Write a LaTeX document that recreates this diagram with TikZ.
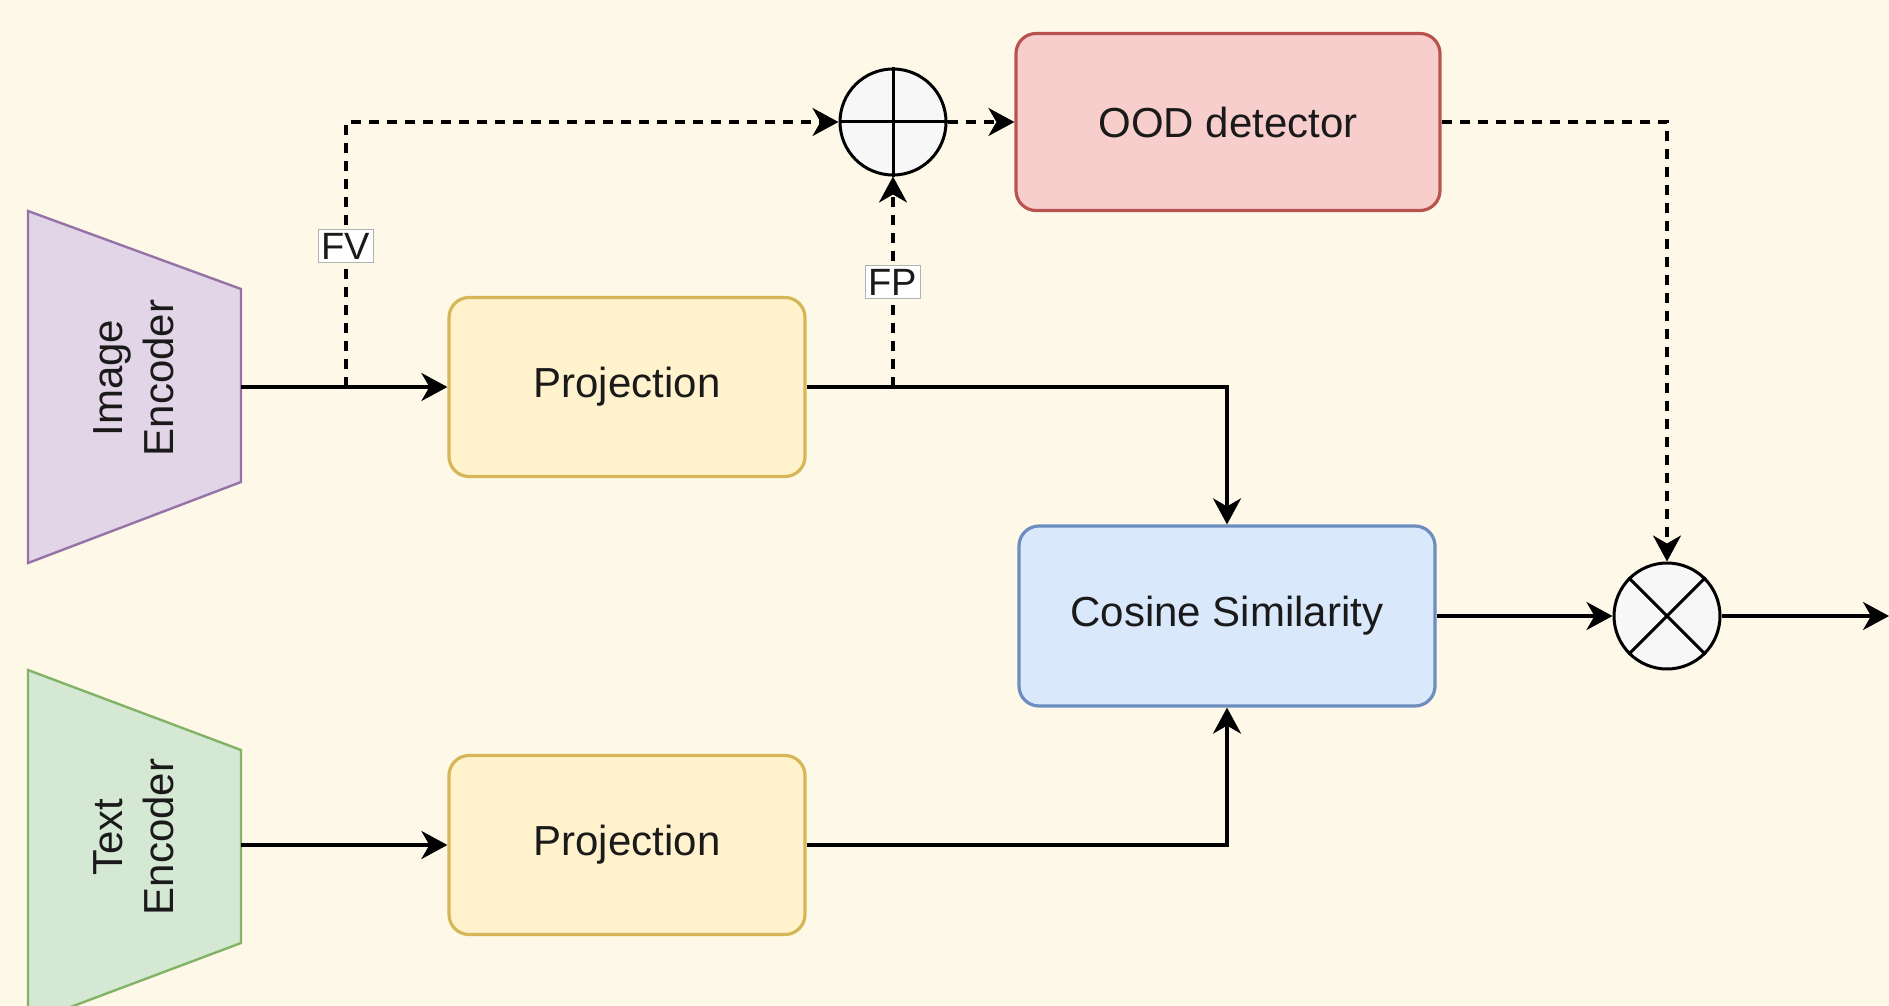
\documentclass[tikz,border=0pt]{standalone}
\usepackage{fontspec}
\setmainfont{Liberation Sans}
\usetikzlibrary{arrows.meta,calc}
\definecolor{bgc}{HTML}{FEF8E8}
\definecolor{ieF}{HTML}{E1D5E7}\definecolor{ieD}{HTML}{9673A6}
\definecolor{teF}{HTML}{D5E8D4}\definecolor{teD}{HTML}{82B366}
\definecolor{prF}{HTML}{FFF2CC}\definecolor{prD}{HTML}{D6B656}
\definecolor{csF}{HTML}{DAE8FC}\definecolor{csD}{HTML}{6C8EBF}
\definecolor{odF}{HTML}{F8CECC}\definecolor{odD}{HTML}{B85450}
\definecolor{txt}{HTML}{1A1A1A}
\begin{document}
\begin{tikzpicture}[x=0.5pt,y=-0.5pt,
  every node/.style={text=txt,font=\fontsize{21pt}{25.5pt}\selectfont},
  box/.style={rounded corners=10pt,line width=1.6pt,inner sep=0pt},
  conn/.style={line width=1.6pt,-{Stealth[length=13pt,width=14pt,inset=4pt]}},
  dconn/.style={conn,dash pattern=on 5pt off 4pt},
  lab/.style={fill=white,draw=black!30,line width=0.5pt,inner sep=1.5pt,font=\fontsize{19pt}{22pt}\selectfont},
  opc/.style={circle,draw=black,fill=white!97!black,line width=1.5pt,minimum size=53pt,inner sep=0pt}]
\useasboundingbox (0,0) rectangle (1889,1006);
\clip (0,0) rectangle (1889,1006);
\fill[bgc] (0,0) rectangle (1889,1006);
% encoders
\draw[fill=ieF,draw=ieD,line width=1.2pt] (28,211) -- (241,289) -- (241,482) -- (28,563) -- cycle;
\node[rotate=90,align=center] (ie) at (134,378) {Image\\Encoder};
\draw[fill=teF,draw=teD,line width=1.2pt] (28,670) -- (241,750) -- (241,943) -- (28,1023) -- cycle;
\node[rotate=90,align=center] (te) at (134,837) {Text\\Encoder};
\coordinate (ieo) at (241,387);
\coordinate (teo) at (241,845);
% boxes
\node[box,fill=prF,draw=prD,minimum width=178pt,minimum height=89.5pt] (p1) at (627,387) {Projection};
\node[box,fill=prF,draw=prD,minimum width=178pt,minimum height=89.5pt] (p2) at (627,845) {Projection};
\node[box,fill=csF,draw=csD,minimum width=208pt,minimum height=90pt] (cs) at (1227,616) {Cosine Similarity};
\node[box,fill=odF,draw=odD,minimum width=212pt,minimum height=88.5pt] (od) at (1228,122) {OOD detector};
% operators
\node[opc] (plus) at (893,122) {};
\draw[line width=1.5pt] (plus.north) -- (plus.south) (plus.west) -- (plus.east);
\node[opc] (times) at (1667,616) {};
\draw[line width=1.5pt] (times.north west) -- (times.south east) (times.north east) -- (times.south west);
\coordinate (out) at (1889,616);
% connectors
\draw[conn] (ieo) -- (p1.west);
\draw[conn] (teo) -- (p2.west);
\draw[conn] (p1.east) -| (cs.north);
\draw[conn] (p2.east) -| (cs.south);
\draw[conn] (cs.east) -- (times.west);
\draw[conn] (times.east) -- (out);
\coordinate (fvj) at (346,387);
\coordinate (fpj) at (893,387);
\draw[dconn] (fvj) |- (plus.west);
\draw[dconn] (fpj) -- (plus.south);
\draw[dconn] (plus.east) -- (od.west);
\draw[dconn] (od.east) -| (times.north);
\node[lab] (fv) at (346,246) {FV};
\node[lab] (fp) at (893,282) {FP};
\end{tikzpicture}
\end{document}
